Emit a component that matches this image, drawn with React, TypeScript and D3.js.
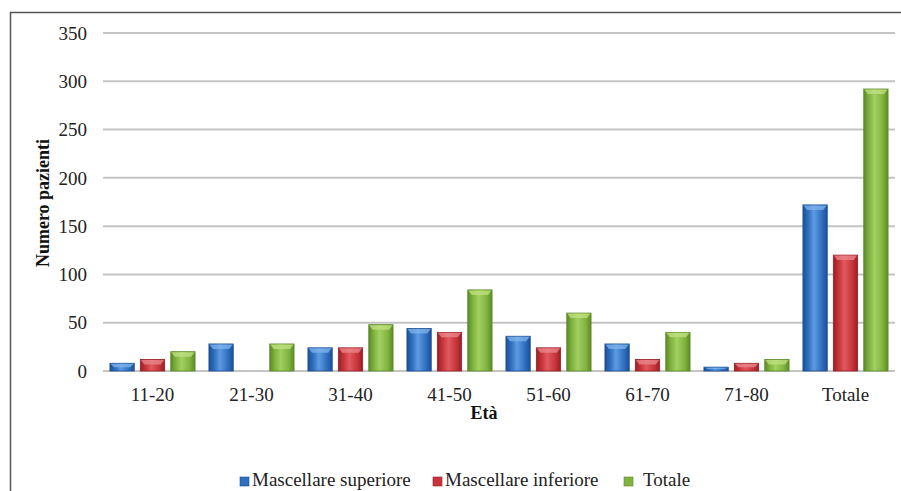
import React from 'react';
import * as d3 from 'd3';

const categories = ['11-20', '21-30', '31-40', '41-50', '51-60', '61-70', '71-80', 'Totale'];
const superiore = [8, 28, 24, 44, 36, 28, 4, 172];
const inferiore = [12, 0, 24, 40, 24, 12, 8, 120];
const totale = [20, 28, 48, 84, 60, 40, 12, 292];
const yTicks = [0, 50, 100, 150, 200, 250, 300, 350];

const seriesNames = ['Mascellare superiore', 'Mascellare inferiore', 'Totale'];
const seriesData = [superiore, inferiore, totale];
const palette = [
  { base: '#2f6fc0', light: '#5f9be0', dark: '#1d4f94', cap: '#7fb4ee' },
  { base: '#c8343a', light: '#e05a5f', dark: '#962026', cap: '#ec8a8d' },
  { base: '#80b43e', light: '#a2cf62', dark: '#5e8a28', cap: '#c2e283' },
];

const W = 901;
const H = 491;
const margin = { left: 103, right: 6, top: 33, bottom: 120 };
const font = '"Liberation Serif", "Times New Roman", serif';

const App = () => {
  const x0 = d3.scaleBand().domain(categories).range([margin.left, W - margin.right]).paddingInner(0.14).paddingOuter(0.07);
  const x1 = d3.scaleBand().domain(seriesNames).range([0, x0.bandwidth()]).paddingInner(0.2);
  const y = d3.scaleLinear().domain([0, 350]).range([371, 33]);
  const legendX = [240, 433, 624];

  return (
    <svg width={W} height={H} style={{ position: 'absolute', left: 0, top: 0, background: '#fff' }}>
      <defs>
        {palette.map((c, i) => (
          <linearGradient key={i} id={`g${i}`} x1="0" x2="1" y1="0" y2="0">
            <stop offset="0%" stopColor={c.dark} />
            <stop offset="22%" stopColor={c.base} />
            <stop offset="45%" stopColor={c.light} />
            <stop offset="78%" stopColor={c.base} />
            <stop offset="100%" stopColor={c.dark} />
          </linearGradient>
        ))}
      </defs>
      <rect x={10.5} y={12.5} width={W + 10} height={H + 10} fill="none" stroke="#555" strokeWidth={1.5} />

      {yTicks.map((t) => (
        <g key={t}>
          <line x1={margin.left} x2={W - margin.right} y1={y(t)} y2={y(t)} stroke="#c4c4c4" strokeWidth={2} />
          <text x={87} y={y(t)} dy="0.35em" textAnchor="end" fontFamily={font} fontSize={19} fill="#222">{t}</text>
        </g>
      ))}

      {categories.map((cat, ci) => (
        <g key={cat} transform={`translate(${x0(cat)},0)`}>
          {seriesData.map((s, si) => {
            const v = s[ci];
            if (v <= 0) return null;
            const bx = x1(seriesNames[si])!;
            const bw = x1.bandwidth();
            const top = y(v);
            const h = y(0) - top;
            const cap = Math.min(5, h / 2);
            const c = palette[si];
            return (
              <g key={si}>
                <rect x={bx} y={top} width={bw} height={h} fill={`url(#g${si})`} stroke={c.dark} strokeWidth={0.8} />
                <path
                  d={`M${bx + 0.5},${top + 0.5} L${bx + bw - 0.5},${top + 0.5} L${bx + bw - 4},${top + cap} L${bx + 4},${top + cap} Z`}
                  fill={c.cap}
                  opacity={0.75}
                />
              </g>
            );
          })}
          <text x={x0.bandwidth() / 2} y={401} textAnchor="middle" fontFamily={font} fontSize={19} fill="#222">{cat}</text>
        </g>
      ))}

      <text transform="translate(49,203) rotate(-90)" textAnchor="middle" fontFamily={font} fontSize={18} fontWeight="bold" fill="#111">Numero pazienti</text>
      <text x={484} y={419} textAnchor="middle" fontFamily={font} fontSize={18} fontWeight="bold" fill="#111">Età</text>

      {seriesNames.map((n, i) => (
        <g key={n}>
          <rect x={legendX[i]} y={477} width={9} height={9} fill={palette[i].base} stroke={palette[i].dark} strokeWidth={0.6} />
          <text x={legendX[i] + (i === 2 ? 19 : 12)} y={486} fontFamily={font} fontSize={19} fill="#222">{n}</text>
        </g>
      ))}
    </svg>
  );
};

export default App;
